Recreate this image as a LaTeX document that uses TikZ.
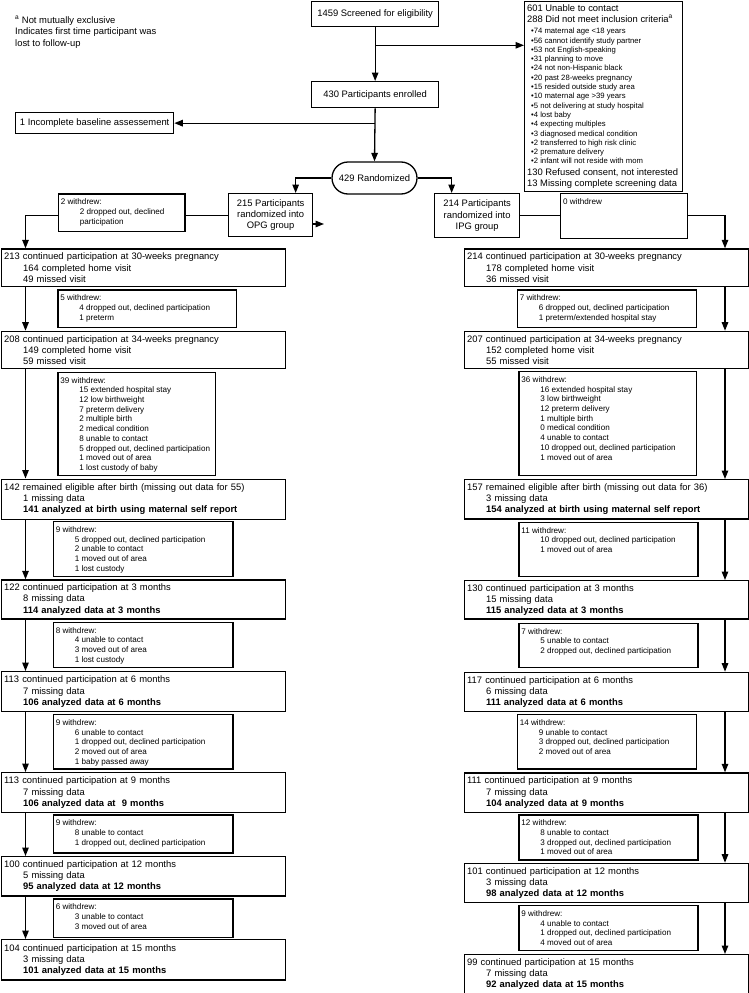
\documentclass[tikz,border=0pt]{standalone}
\usepackage{fontspec}
\setmainfont{Liberation Sans}
\usetikzlibrary{arrows.meta,shapes.misc}

\newcommand{\indnt}{\hspace*{19pt}}
\newcommand{\droplist}[3]{\parbox[t][#2][t]{#1}{\strut#3}}

\begin{document}
\begin{tikzpicture}[
  x=1pt, y=-1pt,
  font=\fontsize{9.4}{11.2}\selectfont,
  box/.style={draw, line width=1.3pt, anchor=north west, inner sep=0pt, align=center},
  stage/.style={draw, line width=1.3pt, anchor=north west, minimum width=284pt, text width=279pt, inner xsep=2.5pt, inner ysep=0pt, align=left},
  drop/.style={draw, line width=1.3pt, anchor=north west, inner xsep=2.5pt, inner ysep=4pt, font=\fontsize{8.1}{9.7}\selectfont},
  arr/.style={-{Triangle[length=8.5pt,width=6.5pt]}, line width=1.3pt},
  ln/.style={line width=1.3pt},
]
\useasboundingbox (0,0) rectangle (749,993);

% --- screening ------------------------------------------------------------
\node[anchor=north west, align=left, inner sep=0pt, font=\fontsize{9.4}{11.7}\selectfont] (note) at (15,15.5) {\textsuperscript{a} Not mutually exclusive\\Indicates first time participant was\\lost to follow-up};
\node[box, minimum width=127pt, minimum height=25pt] (screen) at (311,1) {1459 Screened for eligibility};
\node[draw, line width=1.3pt, anchor=north west, inner xsep=2.5pt, inner ysep=2pt] (excl) at (524,1) {\parbox[t][186pt][t]{153pt}{\strut 601 Unable to contact\\
  288 Did not meet inclusion criteria\textsuperscript{a}\par\vspace{1.8pt}
  {\fontsize{7.7}{9.3}\selectfont
  \hspace*{4pt}•74 maternal age <18 years\\
  \hspace*{4pt}•56 cannot identify study partner\\
  \hspace*{4pt}•53 not English-speaking\\
  \hspace*{4pt}•31 planning to move\\
  \hspace*{4pt}•24 not non-Hispanic black\\
  \hspace*{4pt}•20 past 28-weeks pregnancy\\
  \hspace*{4pt}•15 resided outside study area\\
  \hspace*{4pt}•10 maternal age >39 years\\
  \hspace*{4pt}•5 not delivering at study hospital\\
  \hspace*{4pt}•4 lost baby\\
  \hspace*{4pt}•4 expecting multiples\\
  \hspace*{4pt}•3 diagnosed medical condition\\
  \hspace*{4pt}•2 transferred to high risk clinic\\
  \hspace*{4pt}•2 premature delivery\\
  \hspace*{4pt}•2 infant will not reside with mom\par}
  130 Refused consent, not interested\\
  13 Missing complete screening data}};
\node[box, minimum width=127pt, minimum height=26pt] (enrol) at (311,81) {430 Participants enrolled};
\node[box, minimum width=158pt, minimum height=21pt] (incomp) at (15,112) {1 Incomplete baseline assessement};
\node[draw, rounded rectangle, line width=1.3pt, minimum width=85pt, minimum height=32pt, inner sep=0pt] (rand) at (374.5,178) {429 Randomized};

% --- the two arms -----------------------------------------------------------
\node[box, minimum width=84pt, minimum height=43pt] (opg) at (228,193) {215 Participants\\randomized into\\OPG group};
\node[box, minimum width=85pt, minimum height=44pt] (ipg) at (434,193) {214 Participants\\randomized into\\IPG group};
\node[drop] (w2) at (57.7,193.3) {\droplist{121.6pt}{29.7pt}{2 withdrew:\\\indnt 2 dropped out, declined\\\indnt participation}};
\node[drop] (w0) at (560,192.7) {\droplist{121.7pt}{37.3pt}{0 withdrew}};

% --- OPG column -------------------------------------------------------------
\node[stage, minimum height=37.4pt] (b213) at (1,248.3) {213 continued participation at 30-weeks pregnancy\\\indnt 164 completed home visit\\\indnt 49 missed visit};
\node[drop] (l1) at (57.3,289.3) {\droplist{173.7pt}{29.4pt}{5 withdrew:\\\indnt 4 dropped out, declined participation\\\indnt 1 preterm}};
\node[stage, minimum height=37pt] (b208) at (1,330.7) {208 continued participation at 34-weeks pregnancy\\\indnt 149 completed home visit\\\indnt 59 missed visit};
\node[drop] (l2) at (57.3,371.7) {\droplist{152.7pt}{95pt}{39 withdrew:\\\indnt 15 extended hospital stay\\\indnt 12 low birthweight\\\indnt 7 preterm delivery\\\indnt 2 multiple birth\\\indnt 2 medical condition\\\indnt 8 unable to contact\\\indnt 5 dropped out, declined participation\\\indnt 1 moved out of area\\\indnt 1 lost custody of baby}};
\node[stage, minimum height=40pt] (b142) at (1,478.5) {142 remained eligible after birth (missing out data for 55)\\\indnt 1 missing data\\\indnt \textbf{141 analyzed at birth using maternal self report}};
\node[drop] (l3) at (52.7,521) {\droplist{174.6pt}{47pt}{9 withdrew:\\\indnt 5 dropped out, declined participation\\\indnt 2 unable to contact\\\indnt 1 moved out of area\\\indnt 1 lost custody}};
\node[stage, minimum height=39pt] (b122) at (1,579.3) {122 continued participation at 3 months\\\indnt 8 missing data\\\indnt \textbf{114 analyzed data at 3 months}};
\node[drop] (l4) at (52.7,621.7) {\droplist{174.6pt}{37pt}{8 withdrew:\\\indnt 4 unable to contact\\\indnt 3 moved out of area\\\indnt 1 lost custody}};
\node[stage, minimum height=40pt] (b113a) at (1,671) {113 continued participation at 6 months\\\indnt 7 missing data\\\indnt \textbf{106 analyzed data at 6 months}};
\node[drop] (l5) at (52.7,714) {\droplist{174.6pt}{46.3pt}{9 withdrew:\\\indnt 6 unable to contact\\\indnt 1 dropped out, declined participation\\\indnt 2 moved out of area\\\indnt 1 baby passed away}};
\node[stage, minimum height=40pt] (b113b) at (1,772) {113 continued participation at 9 months\\\indnt 7 missing data\\\indnt \textbf{106 analyzed data at \ 9 months}};
\node[drop] (l6) at (52.7,814.3) {\droplist{174.6pt}{30pt}{9 withdrew:\\\indnt 8 unable to contact\\\indnt 1 dropped out, declined participation}};
\node[stage, minimum height=39.3pt] (b100) at (1,856) {100 continued participation at 12 months\\\indnt 5 missing data\\\indnt \textbf{95 analyzed data at 12 months}};
\node[drop] (l7) at (52.7,898.3) {\droplist{174.6pt}{30.4pt}{6 withdrew:\\\indnt 3 unable to contact\\\indnt 3 moved out of area}};
\node[stage, minimum height=40.3pt] (b104) at (1,939) {104 continued participation at 15 months\\\indnt 3 missing data\\\indnt \textbf{101 analyzed data at 15 months}};

% --- IPG column -------------------------------------------------------------
\node[stage, minimum height=37.4pt] (b214) at (464,248.3) {214 continued participation at 30-weeks pregnancy\\\indnt 178 completed home visit\\\indnt 36 missed visit};
\node[drop] (r1) at (516.7,289.3) {\droplist{174pt}{29.4pt}{7 withdrew:\\\indnt 6 dropped out, declined participation\\\indnt 1 preterm/extended hospital stay}};
\node[stage, minimum height=37pt] (b207) at (464,330.7) {207 continued participation at 34-weeks pregnancy\\\indnt 152 completed home visit\\\indnt 55 missed visit};
\node[drop] (r2) at (518.3,371) {\droplist{172.4pt}{96pt}{36 withdrew:\\\indnt 16 extended hospital stay\\\indnt 3 low birthweight\\\indnt 12 preterm delivery\\\indnt 1 multiple birth\\\indnt 0 medical condition\\\indnt 4 unable to contact\\\indnt 10 dropped out, declined participation\\\indnt 1 moved out of area}};
\node[stage, minimum height=39.3pt] (b157) at (464,479) {157 remained eligible after birth (missing out data for 36)\\\indnt 3 missing data\\\indnt \textbf{154 analyzed at birth using maternal self report}};
\node[drop] (r3) at (518.3,521.7) {\droplist{174pt}{46.3pt}{11 withdrew:\\\indnt 10 dropped out, declined participation\\\indnt 1 moved out of area}};
\node[stage, minimum height=38.3pt] (b130) at (464,580) {130 continued participation at 3 months\\\indnt 15 missing data\\\indnt \textbf{115 analyzed data at 3 months}};
\node[drop] (r4) at (518.3,622.7) {\droplist{174pt}{36pt}{7 withdrew:\\\indnt 5 unable to contact\\\indnt 2 dropped out, declined participation}};
\node[stage, minimum height=39pt] (b117) at (464,671.7) {117 continued participation at 6 months\\\indnt 6 missing data\\\indnt \textbf{111 analyzed data at 6 months}};
\node[drop] (r5) at (516.7,714) {\droplist{174pt}{46.3pt}{14 withdrew:\\\indnt 9 unable to contact\\\indnt 3 dropped out, declined participation\\\indnt 2 moved out of area}};
\node[stage, minimum height=39.4pt] (b111) at (464,772.3) {111 continued participation at 9 months\\\indnt 7 missing data\\\indnt \textbf{104 analyzed data at 9 months}};
\node[drop] (r6) at (518.3,814.3) {\droplist{174pt}{37pt}{12 withdrew:\\\indnt 8 unable to contact\\\indnt 3 dropped out, declined participation\\\indnt 1 moved out of area}};
\node[stage, minimum height=39pt] (b101) at (464,862.7) {101 continued participation at 12 months\\\indnt 3 missing data\\\indnt \textbf{98 analyzed data at 12 months}};
\node[drop] (r7) at (518.3,905) {\droplist{174pt}{37pt}{9 withdrew:\\\indnt 4 unable to contact\\\indnt 1 dropped out, declined participation\\\indnt 4 moved out of area}};
\node[stage, minimum height=38.7pt] (b99) at (464,954) {99 continued participation at 15 months\\\indnt 7 missing data\\\indnt \textbf{92 analyzed data at 15 months}};

% --- arrows, screening ------------------------------------------------------
\coordinate (exclsplit) at ([yshift=-18pt]screen.south);
\coordinate (opgstub) at (324,224);
\coordinate (lcol) at (25.5,0);
\coordinate (rcol) at (725,0);
\draw[arr] (screen.south) -- (enrol.north);
\draw[arr] (exclsplit) -- (exclsplit -| excl.west);
\draw[arr] (enrol.south) -- (rand.north);
\draw[arr] (enrol.south |- incomp.east) -- (incomp.east);
\draw[arr] (rand.west) -| ([xshift=25pt]opg.north);
\draw[arr] (rand.east) -| ([xshift=-25.5pt]ipg.north);

% --- arrows, into the columns ----------------------------------------------
\draw[ln] (opg.west) -- (opg.west -| w2.east);
\draw[arr] (opg.west -| w2.west) -| (b213.north -| lcol);
\draw[arr] (opg.east |- opgstub) -- (opgstub);
\draw[ln] (ipg.east) -- (ipg.east -| w0.west);
\draw[arr] (ipg.east -| w0.east) -| (b214.north -| rcol);

% --- arrows, OPG column -----------------------------------------------------
\draw[arr] (b213.south -| lcol) -- (b208.north -| lcol);
\draw[arr] (b208.south -| lcol) -- (b142.north -| lcol);
\draw[arr] (b142.south -| lcol) -- (b122.north -| lcol);
\draw[arr] (b122.south -| lcol) -- (b113a.north -| lcol);
\draw[arr] (b113a.south -| lcol) -- (b113b.north -| lcol);
\draw[arr] (b113b.south -| lcol) -- (b100.north -| lcol);
\draw[arr] (b100.south -| lcol) -- (b104.north -| lcol);

% --- arrows, IPG column -----------------------------------------------------
\draw[arr] (b214.south -| rcol) -- (b207.north -| rcol);
\draw[arr] (b207.south -| rcol) -- (b157.north -| rcol);
\draw[arr] (b157.south -| rcol) -- (b130.north -| rcol);
\draw[arr] (b130.south -| rcol) -- (b117.north -| rcol);
\draw[arr] (b117.south -| rcol) -- (b111.north -| rcol);
\draw[arr] (b111.south -| rcol) -- (b101.north -| rcol);
\draw[arr] (b101.south -| rcol) -- (b99.north -| rcol);
\end{tikzpicture}
\end{document}
